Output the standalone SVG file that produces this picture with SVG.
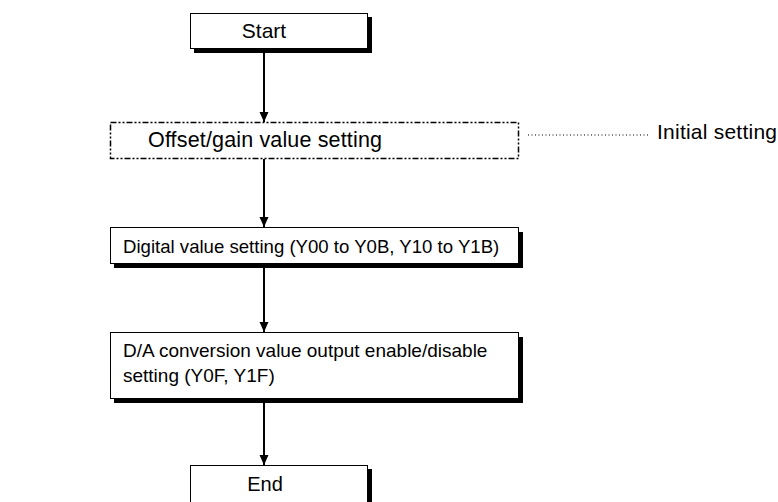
<svg xmlns="http://www.w3.org/2000/svg" width="778" height="502" viewBox="0 0 778 502">
<defs>
<style>
.box{fill:#fff;stroke:#000;stroke-width:1}
.sh{fill:#000}
.t{font-family:"Liberation Sans",Arial,sans-serif;font-size:19px;fill:#000}
.c{stroke:#000;stroke-width:2;fill:none}
</style>
<marker id="ah" viewBox="0 0 10 12" refX="10" refY="6" markerWidth="10" markerHeight="12" markerUnits="userSpaceOnUse" orient="auto">
<path d="M0,1.5 L10,6 L0,10.5 Z" fill="#000"/>
</marker>
</defs>
<rect width="778" height="502" fill="#fff"/>
<g id="start">
<rect class="sh" x="194" y="17" width="178" height="36"/>
<rect class="box" x="190.5" y="13.5" width="177" height="35"/>
<text class="t" x="264" y="38" text-anchor="middle" style="font-size:21px">Start</text>
</g>
<g id="offset">
<rect x="110.5" y="122.5" width="408" height="36" fill="#fff" stroke="#000" stroke-width="1.5" stroke-dasharray="6 2 2 2 2 2"/>
<text class="t" x="148" y="147" style="font-size:21.5px" textLength="234" lengthAdjust="spacing">Offset/gain value setting</text>
</g>
<g id="note">
<line x1="528" y1="135" x2="648" y2="135" stroke="#000" stroke-width="1" stroke-dasharray="1 2.5"/>
<text class="t" x="657" y="139" style="font-size:21px" textLength="120" lengthAdjust="spacing">Initial setting</text>
</g>
<g id="digital">
<rect class="sh" x="114" y="232" width="409" height="36"/>
<rect class="box" x="110.5" y="227.5" width="408" height="36"/>
<text class="t" x="123" y="253" style="font-size:18.6px">Digital value setting (Y00 to Y0B, Y10 to Y1B)</text>
</g>
<g id="da">
<rect class="sh" x="114" y="337" width="409" height="66"/>
<rect class="box" x="110.5" y="332.5" width="408" height="66"/>
<text class="t" x="123" y="357">D/A conversion value output enable/disable</text>
<text class="t" x="123" y="382">setting (Y0F, Y1F)</text>
</g>
<g id="end">
<rect class="sh" x="194" y="469" width="178" height="40"/>
<rect class="box" x="190.5" y="465.5" width="177" height="40"/>
<text class="t" x="265" y="491" text-anchor="middle" style="font-size:20px">End</text>
</g>
<g id="connectors">
<line class="c" x1="264" y1="53" x2="264" y2="122" marker-end="url(#ah)"/>
<line class="c" x1="264" y1="159" x2="264" y2="227" marker-end="url(#ah)"/>
<line class="c" x1="264" y1="268" x2="264" y2="332" marker-end="url(#ah)"/>
<line class="c" x1="264" y1="403" x2="264" y2="465" marker-end="url(#ah)"/>
</g>
</svg>
